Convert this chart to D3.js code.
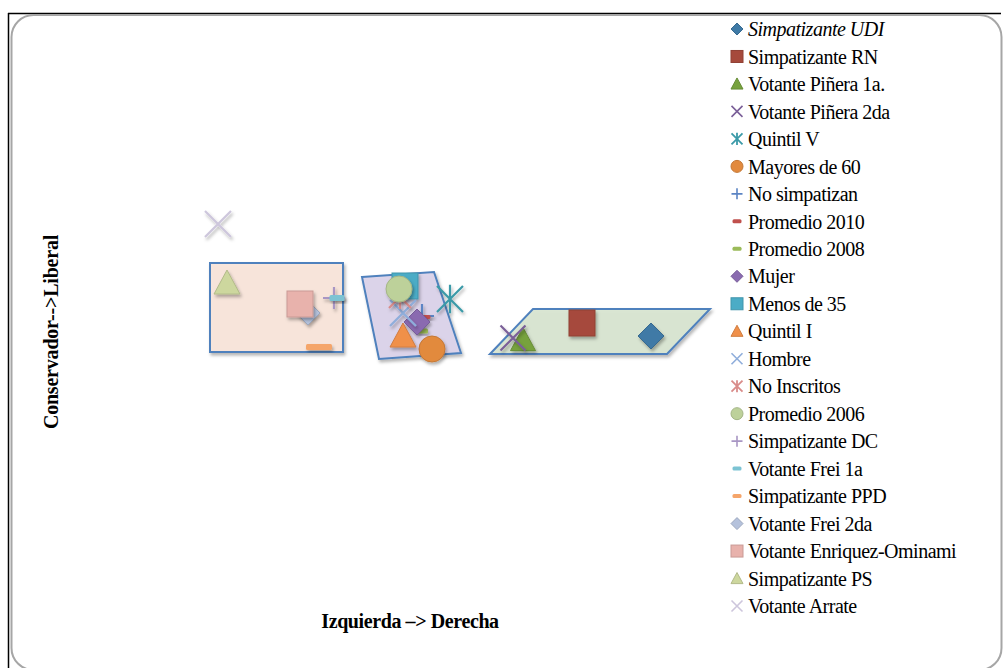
<!DOCTYPE html>
<html><head><meta charset="utf-8">
<script src="https://cdn.jsdelivr.net/npm/d3@7"></script>
<style>body{margin:0;background:#fff;overflow:hidden}</style>
</head><body><svg id="c" width="1003" height="668"></svg>
<script>
// ---- data ----
const series = ["Simpatizante UDI","Simpatizante RN","Votante Piñera 1a.","Votante Piñera 2da","Quintil V","Mayores de 60","No simpatizan","Promedio 2010","Promedio 2008","Mujer","Menos de 35","Quintil I","Hombre","No Inscritos","Promedio 2006","Simpatizante DC","Votante Frei 1a","Simpatizante PPD","Votante Frei 2da","Votante Enriquez-Ominami","Simpatizante PS","Votante Arrate"];
// Izquierda -> Derecha
const xValues = [90.2,76.4,64.6,62.6,50,46.4,44.4,45.2,44.4,43.4,41,40.6,40.6,40,39.8,26.8,27.4,23.8,21.6,20,5.4,3.6];
// Conservador -> Liberal
const yValues = [32,38.5,30,31,50.5,25.5,42,41.5,34.5,39,57,32,43.5,51.5,55.5,51,51,26.5,43.5,48,58.5,88];
// grouping shapes (in data units)
const groupLeft  = [[2,68.5],[28.6,68.5],[28.6,24],[2,24]];
const groupMid   = [[32.4,61.5],[46.8,64],[52.2,23.5],[35.8,20.5]];
const groupRight = [[58,23],[66.6,45.5],[102,45.5],[93.4,23]];
const xTitle = "Izquierda –> Derecha";
const yTitle = "Conservador-->Liberal";

// ---- styles ----
const styles = {
 "Simpatizante UDI":{s:"diamond",c:"#3f7aa6",z:26},
 "Simpatizante RN":{s:"square",c:"#a64a3c",z:26},
 "Votante Piñera 1a.":{s:"triangle",c:"#77a23e",z:25},
 "Votante Piñera 2da":{s:"x",c:"#7a5f98",z:25},
 "Quintil V":{s:"asterisk",c:"#3b9aa8",z:26},
 "Mayores de 60":{s:"circle",c:"#e28a3e",z:26},
 "No simpatizan":{s:"plus",c:"#5b84c4",z:24},
 "Promedio 2010":{s:"dash",c:"#c0504d",z:9},
 "Promedio 2008":{s:"dash",c:"#9bbb59",z:12},
 "Mujer":{s:"diamond",c:"#8a6bb0",z:26},
 "Menos de 35":{s:"square",c:"#4bacc6",z:26},
 "Quintil I":{s:"triangle",c:"#f0904a",z:26},
 "Hombre":{s:"x",c:"#8faedb",z:26},
 "No Inscritos":{s:"asterisk",c:"#d98c8a",z:22},
 "Promedio 2006":{s:"circle",c:"#bdd19a",z:26},
 "Simpatizante DC":{s:"plus",c:"#a896c4",z:22},
 "Votante Frei 1a":{s:"dash",c:"#7cc3d3",z:15},
 "Simpatizante PPD":{s:"dash",c:"#f5a56a",z:26},
 "Votante Frei 2da":{s:"diamond",c:"#b5c2dc",z:24},
 "Votante Enriquez-Ominami":{s:"square",c:"#e8b2ac",z:26},
 "Simpatizante PS":{s:"triangle",c:"#cdd79e",z:26},
 "Votante Arrate":{s:"x",c:"#cdc6dc",z:26}
};

const svg = d3.select("#c");
const defs = svg.append("defs");
const f = defs.append("filter").attr("id","sh").attr("x","-50%").attr("y","-50%").attr("width","200%").attr("height","200%");
f.append("feDropShadow").attr("dx",1.5).attr("dy",2.5).attr("stdDeviation",1.8).attr("flood-color","#000").attr("flood-opacity",0.3);

// frame
svg.append("line").attr("x1",8).attr("y1",13.5).attr("x2",1001).attr("y2",13.5).attr("stroke","#000").attr("stroke-width",1.5);
svg.append("line").attr("x1",8.5).attr("y1",13).attr("x2",8.5).attr("y2",668).attr("stroke","#000").attr("stroke-width",1.5);
svg.append("rect").attr("x",11.5).attr("y",15).attr("width",990).attr("height",655).attr("rx",22).attr("fill","#fff").attr("stroke","#a6a6a6").attr("stroke-width",2);

const x = d3.scaleLinear().domain([0,100]).range([200,700]);
const y = d3.scaleLinear().domain([0,100]).range([400,200]);
const line = d3.line().x(d=>x(d[0])).y(d=>y(d[1])).curve(d3.curveLinearClosed);

const gShapes = svg.append("g");
[[groupLeft,"#f9e6da"],[groupMid,"#dbd3ea"],[groupRight,"#d8e6d0"]].forEach(([pts,fill])=>{
  gShapes.append("path").attr("d",line(pts)).attr("fill",fill).attr("fill-opacity",0.9)
   .attr("stroke","#4f81bd").attr("stroke-width",2).attr("filter","url(#sh)");
});

function marker(g, st, size, cx, cy){
  const h = size/2, c = st.c, dk = d3.color(c).darker(0.4);
  let el;
  switch(st.s){
    case "diamond":
      el = g.append("path").attr("d",`M${cx},${cy-h}L${cx+h},${cy}L${cx},${cy+h}L${cx-h},${cy}Z`).attr("fill",c).attr("stroke",dk).attr("stroke-width",1);break;
    case "square":
      el = g.append("rect").attr("x",cx-h).attr("y",cy-h).attr("width",size).attr("height",size).attr("fill",c).attr("stroke",dk).attr("stroke-width",1);break;
    case "triangle":
      el = g.append("path").attr("d",`M${cx},${cy-h}L${cx+h},${cy+h*0.85}L${cx-h},${cy+h*0.85}Z`).attr("fill",c).attr("stroke",dk).attr("stroke-width",1);break;
    case "circle":
      el = g.append("circle").attr("cx",cx).attr("cy",cy).attr("r",h).attr("fill",c).attr("stroke",dk).attr("stroke-width",1);break;
    case "x":
      el = g.append("path").attr("d",`M${cx-h},${cy-h}L${cx+h},${cy+h}M${cx+h},${cy-h}L${cx-h},${cy+h}`).attr("stroke",c).attr("stroke-width",size>14?2.2:1.6).attr("fill","none");break;
    case "asterisk":
      el = g.append("path").attr("d",`M${cx-h},${cy-h}L${cx+h},${cy+h}M${cx+h},${cy-h}L${cx-h},${cy+h}M${cx},${cy-h*1.1}L${cx},${cy+h*1.1}`).attr("stroke",c).attr("stroke-width",size>14?2.2:1.8).attr("fill","none");break;
    case "plus":
      el = g.append("path").attr("d",`M${cx-h},${cy}L${cx+h},${cy}M${cx},${cy-h}L${cx},${cy+h}`).attr("stroke",c).attr("stroke-width",size>14?2.2:1.6).attr("fill","none");break;
    case "dash":
      const th = size>14?6:(size>10?5:4);
      el = g.append("rect").attr("x",cx-h).attr("y",cy-th/2).attr("width",size).attr("height",th).attr("rx",1.5).attr("fill",c);break;
  }
  return el;
}

const gPts = svg.append("g");
series.forEach((name,i)=>{
  const st = styles[name];
  const el = marker(gPts, st, st.z, x(xValues[i]), y(yValues[i]));
  el.attr("filter","url(#sh)");
});

// legend
const leg = svg.append("g");
const legY = d3.scaleLinear().domain([0,series.length-1]).range([29,606]);
const legSizes = {diamond:12,square:12,triangle:12,circle:12,x:11,asterisk:11,plus:11,dash:9};
series.forEach((name,i)=>{
  const st = styles[name];
  const cy = legY(i);
  marker(leg, st, legSizes[st.s], 737, cy);
  leg.append("text").attr("x",748).attr("y",cy).attr("dy","0.36em")
    .attr("font-family","Liberation Serif").attr("font-size",20).attr("letter-spacing",-0.5)
    .attr("font-style", i===0?"italic":"normal")
    .attr("fill","#000").text(name);
});

// axis titles
svg.append("text").attr("x",410).attr("y",628).attr("text-anchor","middle")
  .attr("font-family","Liberation Serif").attr("font-weight","bold").attr("font-size",20).attr("letter-spacing",-0.4).text(xTitle);
svg.append("text").attr("transform","translate(58,332) rotate(-90)").attr("text-anchor","middle")
  .attr("font-family","Liberation Serif").attr("font-weight","bold").attr("font-size",20).attr("letter-spacing",-0.2).text(yTitle);
</script></body></html>
